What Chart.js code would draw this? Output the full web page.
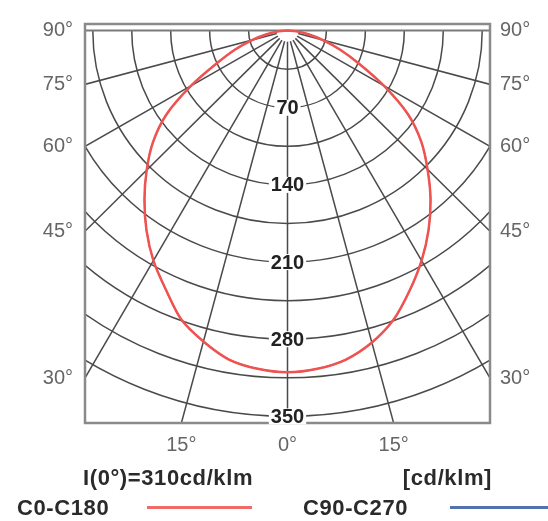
<!DOCTYPE html>
<html>
<head>
<meta charset="utf-8">
<script src="https://cdn.jsdelivr.net/npm/chart.js@4"></script>
<style>
  body { margin: 0; background: #fff; }
  #wrap { position: relative; width: 548px; height: 521px; }
  .txt { position: absolute; font: bold 22px 'Liberation Sans', Arial, sans-serif; line-height: 22px;
         letter-spacing: 0.6px; color: #2a2a2a; white-space: nowrap; }
  .ln { position: absolute; height: 3px; }
</style>
</head>
<body>
<div id="wrap">
  <canvas id="ldc" width="548" height="521"></canvas>
  <div class="txt" style="left:83px; top:467px;">I(0°)=310cd/klm</div>
  <div class="txt" style="right:56px; top:467px;">[cd/klm]</div>
  <div class="txt" style="left:17px; top:497px;">C0-C180</div>
  <div class="ln" style="left:147px; width:105px; top:506px; background:#f06a66;"></div>
  <div class="txt" style="left:303px; top:497px;">C90-C270</div>
  <div class="ln" style="left:450px; width:98px; top:506px; background:#5472b0;"></div>
</div>
<script>
// angles from nadir (deg) and intensities in cd/klm
const angles = [0, 5, 10, 15, 20, 25, 30, 35, 40, 45, 50, 55, 60, 65, 70, 75, 80, 85, 90];
const c0 = [310, 308, 303, 293, 279, 260, 241, 221, 200, 178, 157, 132, 100, 71, 50, 33, 19, 8, 0];
const c180 = [310, 308, 303, 292, 279, 259, 241, 221, 200, 179, 158, 133, 100, 70, 50, 33, 19, 8, 0];
const c90 = [310, 308, 303, 293, 279, 260, 241, 221, 200, 178, 157, 132, 100, 71, 50, 33, 19, 8, 0];
const c270 = [310, 308, 303, 292, 279, 259, 241, 221, 200, 179, 158, 133, 100, 70, 50, 33, 19, 8, 0];

// grid
const rings = [35, 70, 105, 140, 175, 210, 245, 280, 315, 350];
const ringLabels = [70, 140, 210, 280, 350];
const radialAngles = [-75, -60, -45, -30, -15, 0, 15, 30, 45, 60, 75];
const sideTicks = [90, 75, 60, 45, 30];
const bottomTicks = [15, 0, 15];

const halfW = 182, yMin = -356, yMax = 6;
const rad = Math.PI / 180;

function toXY(left, right) {
    const pts = [];
    for (let i = angles.length - 1; i >= 0; i--) {
        pts.push({x: -left[i] * Math.sin(angles[i] * rad), y: -left[i] * Math.cos(angles[i] * rad)});
    }
    for (let i = 1; i < angles.length; i++) {
        pts.push({x: right[i] * Math.sin(angles[i] * rad), y: -right[i] * Math.cos(angles[i] * rad)});
    }
    return pts;
}

const polarGrid = {
    id: 'polarGrid',
    beforeDatasetsDraw(chart) {
        const {ctx, chartArea: a, scales: {x, y}} = chart;
        const cx = x.getPixelForValue(0), cy = y.getPixelForValue(0);
        const kx = x.getPixelForValue(1) - cx, ky = y.getPixelForValue(-1) - cy;
        ctx.save();
        ctx.beginPath();
        ctx.rect(a.left, a.top, a.right - a.left, a.bottom - a.top);
        ctx.clip();
        ctx.strokeStyle = '#4a4a4a';
        ctx.lineWidth = 1.5;
        rings.forEach(r => {
            ctx.beginPath();
            ctx.ellipse(cx, cy, r * kx, r * ky, 0, 0, Math.PI);
            ctx.stroke();
        });
        radialAngles.forEach(t => {
            const s = Math.sin(t * rad), c = Math.cos(t * rad);
            ctx.beginPath();
            ctx.moveTo(x.getPixelForValue(10 * s), y.getPixelForValue(-10 * c));
            ctx.lineTo(x.getPixelForValue(600 * s), y.getPixelForValue(-600 * c));
            ctx.stroke();
        });
        ctx.strokeStyle = '#7a7a7a';
        ctx.lineWidth = 2;
        ctx.beginPath();
        ctx.moveTo(a.left, cy);
        ctx.lineTo(a.right, cy);
        ctx.stroke();
        ctx.restore();

        ctx.save();
        ctx.strokeStyle = '#8a8a8a';
        ctx.lineWidth = 2.5;
        ctx.strokeRect(a.left, a.top, a.right - a.left, a.bottom - a.top);
        ctx.font = "bold 20px 'Liberation Sans', Arial, sans-serif";
        ctx.textAlign = 'center';
        ctx.textBaseline = 'middle';
        ringLabels.forEach(v => {
            const py = y.getPixelForValue(-v);
            const w = ctx.measureText(String(v)).width + 4;
            ctx.fillStyle = '#fff';
            ctx.fillRect(cx - w / 2, py - 8, w, 16);
            ctx.fillStyle = '#222';
            ctx.fillText(String(v), cx, py + 1);
        });
        ctx.restore();
    }
};

const tickFont = {family: "'Liberation Sans', Arial, sans-serif", size: 20};
const sideTickValues = () => sideTicks.map(t => ({value: t === 90 ? 0 : -halfW / Math.tan(t * rad)}));

new Chart(document.getElementById('ldc'), {
    type: 'scatter',
    data: {
        datasets: [
            {
                label: 'C0-C180',
                data: toXY(c180, c0),
                showLine: true,
                borderColor: '#f0524f',
                borderWidth: 2.5,
                pointRadius: 0,
                tension: 0.3
            },
            {
                label: 'C90-C270',
                data: toXY(c270, c90),
                showLine: true,
                borderColor: '#5472b0',
                borderWidth: 1.5,
                pointRadius: 0,
                tension: 0.3
            }
        ]
    },
    options: {
        responsive: false,
        animation: false,
        layout: {padding: {top: 19}},
        plugins: {
            legend: {display: false},
            tooltip: {enabled: false}
        },
        scales: {
            x: {
                type: 'linear',
                position: 'bottom',
                min: -halfW,
                max: halfW,
                grid: {display: false, drawTicks: false},
                border: {display: false},
                afterBuildTicks: s => {
                    const v = -yMin * Math.tan(15 * rad);
                    s.ticks = [{value: -v}, {value: 0}, {value: v}];
                },
                afterFit: s => { s.height = 98; },
                ticks: {
                    autoSkip: false,
                    maxRotation: 0,
                    padding: 10,
                    color: '#666',
                    font: tickFont,
                    callback: (v, i) => bottomTicks[i] + '°'
                }
            },
            y: {
                type: 'linear',
                position: 'left',
                min: yMin,
                max: yMax,
                grid: {display: false, drawTicks: false},
                border: {display: false},
                afterBuildTicks: s => { s.ticks = sideTickValues(); },
                afterFit: s => { s.width = 85; },
                ticks: {
                    autoSkip: false,
                    padding: 12,
                    color: '#666',
                    font: tickFont,
                    callback: (v, i) => sideTicks[i] + '°'
                }
            },
            y2: {
                type: 'linear',
                position: 'right',
                min: yMin,
                max: yMax,
                grid: {display: false, drawTicks: false},
                border: {display: false},
                afterBuildTicks: s => { s.ticks = sideTickValues(); },
                afterFit: s => { s.width = 58; },
                ticks: {
                    autoSkip: false,
                    padding: 10,
                    color: '#666',
                    font: tickFont,
                    callback: (v, i) => sideTicks[i] + '°'
                }
            }
        }
    },
    plugins: [polarGrid]
});
</script>
</body>
</html>
